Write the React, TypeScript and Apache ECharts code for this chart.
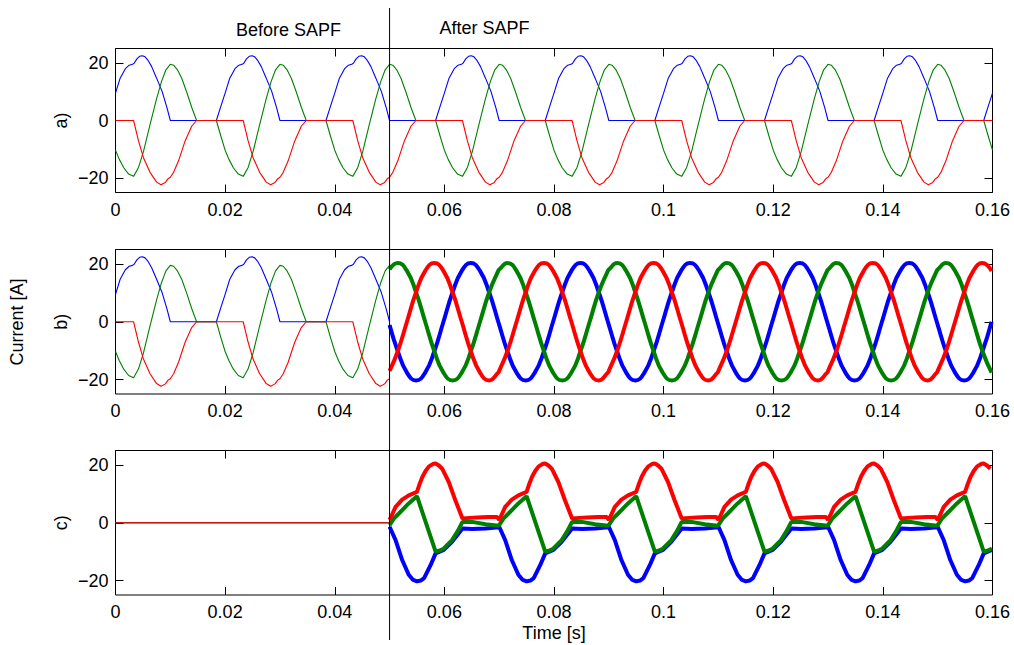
import React, { useEffect, useRef } from "react";
import * as echarts from "echarts";

// ---------------- data ----------------
const PERIOD_MS = 20;
const T_END_MS = 160;
const T_SWITCH_MS = 50;

const xTickStep = 0.02;
const yTicks = [-20, 0, 20];

const COLOR_A = "#0000ff";
const COLOR_B = "#008000";
const COLOR_C = "#ff0000";

// Load currents (plot a, and plot b before SAPF): one period, [ms within period, A]
const loadBlue: [number, number][] = [
  [0, 9.5], [0.85, 14.7], [1.8, 18.0], [2.5, 19.2], [3.1, 19.5], [3.4, 19.9],
  [3.9, 21.4], [4.4, 22.3], [4.9, 22.5], [5.4, 22.1], [5.9, 21.0], [6.6, 18.7],
  [7.5, 14.7], [8.5, 10.1], [9.4, 4.4], [10.0, 0], [18.4, 0], [19.2, 4.8],
];
const loadGreen: [number, number][] = [
  [0, -10.3], [0.7, -13.5], [1.5, -16.4], [2.4, -18.6], [3.3, -19.4], [4.2, -16.3],
  [5.1, -10.8], [6.3, -1.4], [7.5, 7.6], [8.4, 13.6], [9.2, 17.6], [10.0, 19.5],
  [10.6, 19.2], [11.3, 17.6], [12.1, 14.6], [13.0, 9.8], [13.9, 4.6], [14.8, 0],
  [18.4, 0], [19.2, -5.3],
];
const loadRed: [number, number][] = [
  [0, 0], [3.3, 0], [4.2, -7.1], [5.1, -12.9], [6.3, -18.0], [7.5, -21.4],
  [8.3, -22.3], [9.1, -21.5], [9.6, -20.2], [10.0, -19.7], [10.6, -18.0],
  [11.5, -14.0], [12.7, -7.1], [13.9, -2.0], [14.8, 0],
];

// Source currents after SAPF (plot b): one period from t = 50 ms, [ms, A]
const srcBlue: [number, number][] = [
  [0, -1.1], [1.5, -10.2], [3.17, -17.6], [4.83, -20.3], [6.5, -17.6], [8.17, -10.2],
  [9.83, 0], [11.5, 10.2], [13.17, 17.6], [14.83, 20.3], [16.5, 17.6], [18.17, 10.2],
  [19.83, 0],
];
const srcGreen: [number, number][] = [
  [0, 18.1], [1.5, 20.3], [3.17, 17.6], [4.83, 10.2], [6.5, 0], [8.17, -10.2],
  [9.83, -17.6], [11.5, -20.3], [13.17, -17.6], [14.83, -10.2], [16.5, 0],
  [18.17, 10.2], [19.83, 17.6],
];
const srcRed: [number, number][] = [
  [0, -17.0], [1.5, -10.2], [3.17, 0], [4.83, 10.2], [6.5, 17.6], [8.17, 20.3],
  [9.83, 17.6], [11.5, 10.2], [13.17, 0], [14.83, -10.2], [16.5, -17.6],
  [18.17, -20.3], [19.83, -17.6],
];

// Filter currents after SAPF (plot c): one period from t = 50 ms, [ms, A]
const filtBlue: [number, number][] = [
  [0, -1.4], [1.1, -6.0], [2.3, -12.9], [3.5, -18.0], [4.3, -19.8], [5.0, -20.3],
  [5.7, -20.0], [6.3, -19.2], [7.5, -14.6], [8.4, -10.6], [9.9, -9.4],
  [11.4, -6.6], [13.3, -2.0], [15.1, -2.2], [17.5, -2.0], [19.9, -1.6],
];
const filtGreen: [number, number][] = [
  [0, -0.8], [0.8, 1.5], [1.7, 3.2], [3.5, 6.7], [5.0, 9.2], [8.4, -10.0],
  [9.2, -9.6], [9.9, -8.9], [11.4, -6.0], [12.4, -3.0], [13.3, 0.3],
  [15.1, 0.3], [17.5, -0.5], [19.9, -1.0],
];
const filtRed: [number, number][] = [
  [0, 1.0], [0.5, 3.0], [1.1, 5.5], [2.3, 8.0], [3.5, 9.5], [5.0, 10.7],
  [5.5, 13.5], [6.0, 15.9], [6.6, 18.0], [7.2, 19.5], [8.0, 20.4], [8.4, 20.5],
  [9.0, 19.8], [9.6, 18.7], [10.8, 14.1], [12.0, 7.8], [13.3, 1.5], [14.0, 1.6],
  [16.0, 1.8], [18.0, 2.0], [19.6, 2.0],
];

const panelLabels = ["a)", "b)", "c)"];

// ---------------- helpers ----------------
function tile(period: [number, number][], startMs: number, endMs: number): number[][] {
  const out: number[][] = [];
  for (let base = startMs; base <= endMs + 1e-9; base += PERIOD_MS) {
    for (const [dt, v] of period) {
      const t = base + dt;
      if (t <= endMs + 1e-9) out.push([t / 1000, v]);
    }
  }
  return out;
}

const FONT = '"Liberation Sans", Arial, Helvetica, sans-serif';

const grids = [
  { left: 115.5, top: 48.5, width: 877, height: 144 },
  { left: 115.5, top: 249.5, width: 877, height: 144.5 },
  { left: 115.5, top: 450.5, width: 877, height: 144.5 },
];

function xAxis(gridIndex: number, position: "top" | "bottom", showLabel: boolean) {
  return {
    type: "value",
    gridIndex,
    position,
    min: 0,
    max: T_END_MS / 1000,
    interval: xTickStep,
    axisLine: { show: false, onZero: false },
    splitLine: { show: false },
    axisTick: { show: true, inside: true, length: 8, lineStyle: { color: "#000", width: 1 } },
    axisLabel: {
      show: showLabel,
      color: "#000",
      fontSize: 18,
      fontFamily: FONT,
      margin: 8,
      formatter: (v: number) => String(Number(v.toFixed(2))),
    },
  };
}
function yAxis(gridIndex: number, position: "left" | "right", showLabel: boolean) {
  return {
    type: "value",
    gridIndex,
    position,
    min: -25,
    max: 25,
    axisLine: { show: false, onZero: false },
    splitLine: { show: false },
    axisTick: {
      show: true,
      inside: true,
      length: 8,
      customValues: yTicks,
      lineStyle: { color: "#000", width: 1 },
    },
    axisLabel: {
      show: showLabel,
      customValues: yTicks,
      color: "#000",
      fontSize: 18,
      fontFamily: FONT,
      margin: 7,
      formatter: (v: number) => String(v).replace("-", "\u2212"),
    },
  };
}
function line(name: string, idx: number, data: number[][], color: string, width: number) {
  return {
    name,
    type: "line",
    xAxisIndex: idx,
    yAxisIndex: idx,
    data,
    showSymbol: false,
    symbol: "none",
    silent: true,
    lineStyle: { color, width },
    itemStyle: { color },
  };
}
function smoothLine(name: string, idx: number, data: number[][], color: string, width: number) {
  return { ...line(name, idx, data, color, width), smooth: 0.5 };
}

export default function App() {
  const ref = useRef<HTMLDivElement>(null);
  useEffect(() => {
    if (!ref.current) return;
    const chart = echarts.init(ref.current, undefined, { renderer: "svg" });

    const series: any[] = [
      // a) load currents
      line("ia", 0, tile(loadBlue, 0, T_END_MS), COLOR_A, 1.1),
      line("ib", 0, tile(loadGreen, 0, T_END_MS), COLOR_B, 1.1),
      line("ic", 0, tile(loadRed, 0, T_END_MS), COLOR_C, 1.1),
      // b) source currents: before SAPF
      line("isa0", 1, tile(loadBlue, 0, T_SWITCH_MS), COLOR_A, 1.1),
      line("isb0", 1, tile(loadGreen, 0, T_SWITCH_MS), COLOR_B, 1.1),
      line("isc0", 1, tile(loadRed, 0, T_SWITCH_MS), COLOR_C, 1.1),
      // b) after SAPF
      smoothLine("isa", 1, tile(srcBlue, T_SWITCH_MS, T_END_MS), COLOR_A, 4),
      smoothLine("isb", 1, tile(srcGreen, T_SWITCH_MS, T_END_MS), COLOR_B, 4),
      smoothLine("isc", 1, tile(srcRed, T_SWITCH_MS, T_END_MS), COLOR_C, 4),
      // c) filter currents
      line("ifa0", 2, [[0, 0], [T_SWITCH_MS / 1000, 0]], COLOR_A, 1.1),
      line("ifb0", 2, [[0, 0], [T_SWITCH_MS / 1000, 0]], COLOR_B, 1.1),
      line("ifc0", 2, [[0, 0], [T_SWITCH_MS / 1000, 0]], COLOR_C, 1.1),
      line("ifa", 2, tile(filtBlue, T_SWITCH_MS, T_END_MS), COLOR_A, 4),
      line("ifb", 2, tile(filtGreen, T_SWITCH_MS, T_END_MS), COLOR_B, 4),
      line("ifc", 2, tile(filtRed, T_SWITCH_MS, T_END_MS), COLOR_C, 4),
    ];

    chart.setOption({
      animation: false,
      backgroundColor: "#fff",
      grid: grids.map((g) => ({
        ...g,
        show: true,
        borderColor: "#000",
        borderWidth: 1,
        backgroundColor: "transparent",
        containLabel: false,
      })),
      xAxis: [
        xAxis(0, "bottom", true),
        xAxis(1, "bottom", true),
        xAxis(2, "bottom", true),
        xAxis(0, "top", false),
        xAxis(1, "top", false),
        xAxis(2, "top", false),
      ],
      yAxis: [
        yAxis(0, "left", true),
        yAxis(1, "left", true),
        yAxis(2, "left", true),
        yAxis(0, "right", false),
        yAxis(1, "right", false),
        yAxis(2, "right", false),
      ],
      series,
    });

    const xs = chart.convertToPixel({ xAxisIndex: 0 }, T_SWITCH_MS / 1000) as number;
    const midX = grids[0].left + grids[0].width / 2;
    const textStyle = { fill: "#000", fontSize: 18, fontFamily: FONT };

    chart.setOption({
      graphic: [
        {
          type: "line",
          silent: true,
          z: 100,
          shape: { x1: xs, y1: 8, x2: xs, y2: 640 },
          style: { stroke: "#000", lineWidth: 1 },
        },
        {
          type: "text",
          x: xs - 101,
          y: 30,
          style: { ...textStyle, text: "Before SAPF", align: "center", verticalAlign: "middle" },
        },
        {
          type: "text",
          x: xs + 95,
          y: 28,
          style: { ...textStyle, text: "After SAPF", align: "center", verticalAlign: "middle" },
        },
        {
          type: "text",
          x: midX,
          y: 633,
          style: { ...textStyle, text: "Time [s]", align: "center", verticalAlign: "middle" },
        },
        {
          type: "text",
          x: 17,
          y: 322,
          rotation: Math.PI / 2,
          style: { ...textStyle, text: "Current [A]", align: "center", verticalAlign: "middle" },
        },
        ...panelLabels.map((label, i) => ({
          type: "text",
          x: 61,
          y: grids[i].top + grids[i].height / 2,
          rotation: Math.PI / 2,
          style: { ...textStyle, text: label, align: "center", verticalAlign: "middle" },
        })),
      ],
    });

    return () => chart.dispose();
  }, []);

  return (
    <div
      ref={ref}
      style={{ position: "fixed", left: 0, top: 0, width: 1014, height: 645, background: "#fff" }}
    />
  );
}
